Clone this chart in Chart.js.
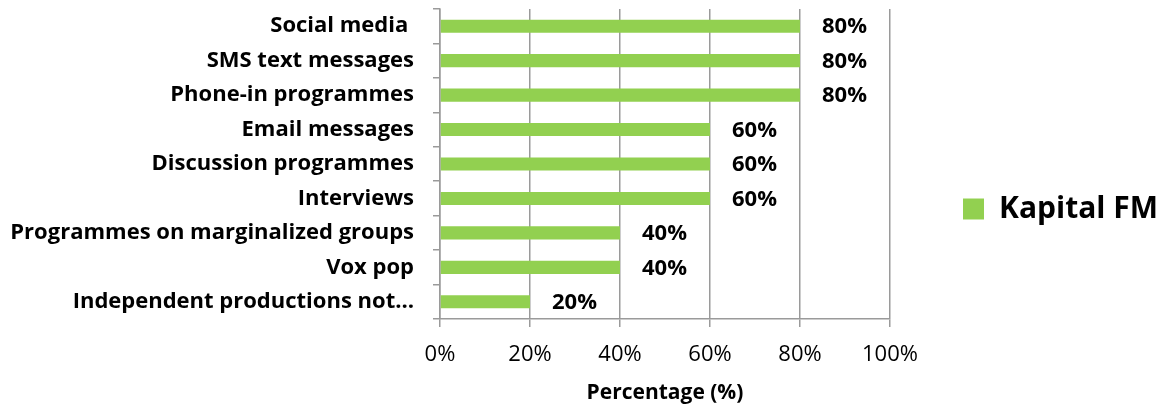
<!DOCTYPE html>
<html>
<head>
<meta charset="utf-8">
<script src="https://cdn.jsdelivr.net/npm/chart.js@4/dist/chart.umd.min.js"></script>
<style>
  html, body { margin: 0; padding: 0; background: #fff; }
  #wrap { width: 1168px; height: 409px; }
</style>
</head>
<body>
<div id="wrap"><canvas id="chart"></canvas></div>
<script>
// categories, top to bottom
const categories = [
    "Social media ",
    "SMS text messages",
    "Phone-in programmes",
    "Email messages",
    "Discussion programmes",
    "Interviews",
    "Programmes on marginalized groups",
    "Vox pop",
    "Independent productions not\u2026"
];
const kapitalFM = [80, 80, 80, 60, 60, 60, 40, 40, 20];
const tickValues = [0, 20, 40, 60, 80, 100];

const FONT = "'Open Sans', sans-serif";
const GREEN = '#92D050';
const GRID = '#9a9a9a';

// draws the value labels right of each bar
const valueLabels = {
    id: 'valueLabels',
    afterDatasetsDraw(chart) {
        const ctx = chart.ctx;
        ctx.save();
        ctx.font = 'bold 22px ' + FONT;
        ctx.fillStyle = '#000';
        ctx.textAlign = 'left';
        ctx.textBaseline = 'middle';
        chart.getDatasetMeta(0).data.forEach((bar, i) => {
            ctx.fillText(kapitalFM[i] + '%', bar.x + 22, bar.y + 1);
        });
        ctx.restore();
    }
};

new Chart(document.getElementById('chart'), {
    type: 'bar',
    data: {
        labels: categories,
        datasets: [{
            label: 'Kapital FM',
            data: kapitalFM,
            backgroundColor: GREEN,
            borderWidth: 0,
            categoryPercentage: 1,
            barPercentage: 0.38
        }]
    },
    options: {
        indexAxis: 'y',
        responsive: true,
        maintainAspectRatio: false,
        animation: false,
        layout: { padding: { top: 9, right: 0, bottom: 0, left: 0 } },
        scales: {
            x: {
                min: 0,
                max: 100,
                afterBuildTicks: (scale) => { scale.ticks = tickValues.map(v => ({ value: v })); },
                afterFit: (scale) => { scale.height = 90; },
                ticks: {
                    color: '#000',
                    font: { family: FONT, size: 22 },
                    padding: 15,
                    callback: (v) => v + '%'
                },
                grid: { color: GRID, lineWidth: 1.5, tickLength: 8 },
                border: { color: GRID, width: 1.5 },
                title: {
                    display: true,
                    text: 'Percentage (%)',
                    color: '#000',
                    font: { family: FONT, size: 21, weight: 'bold' },
                    padding: { top: 4, bottom: 3 }
                }
            },
            y: {
                afterFit: (scale) => {
                    scale.width = 440;
                    scale.paddingTop = 0;
                    scale.paddingBottom = 0;
                },
                ticks: {
                    color: '#000',
                    font: { family: FONT, size: 22, weight: 'bold' },
                    padding: 19
                },
                grid: { display: true, drawOnChartArea: false, offset: true, color: GRID, lineWidth: 1.5, tickLength: 7 },
                border: { color: GRID, width: 1.5 }
            }
        },
        plugins: {
            legend: {
                position: 'right',
                labels: {
                    color: '#000',
                    font: { family: FONT, size: 30, weight: 'bold' },
                    boxWidth: 21,
                    boxHeight: 21,
                    padding: 73
                }
            },
            tooltip: { enabled: false }
        }
    },
    plugins: [valueLabels]
});
</script>
</body>
</html>
